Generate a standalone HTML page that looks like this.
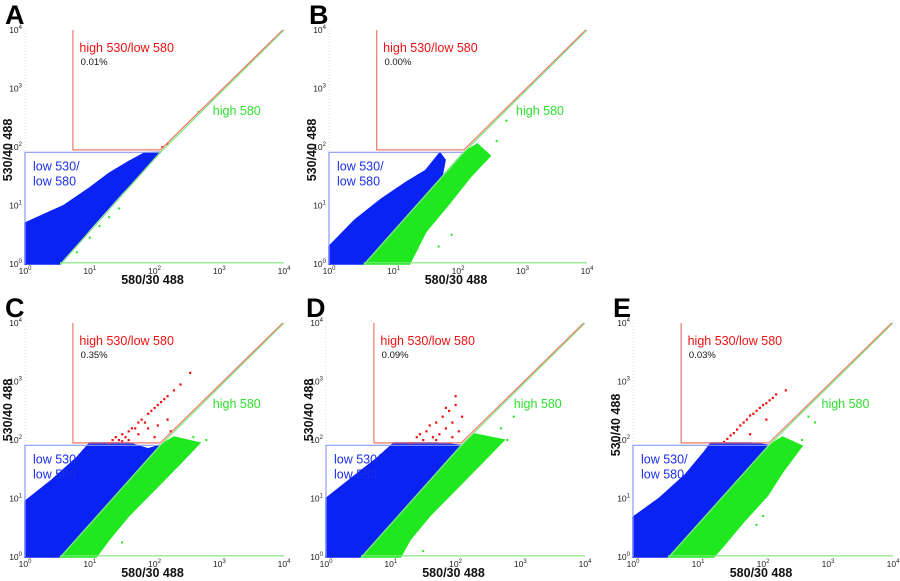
<!DOCTYPE html>
<html><head><meta charset="utf-8">
<style>
html,body{margin:0;padding:0;background:#fff;width:900px;height:581px;overflow:hidden}
svg{display:block;font-family:"Liberation Sans",Arial,sans-serif}
</style></head>
<body>
<svg id="fig" width="900" height="581" viewBox="0 0 900 581"></svg>
<script>
const panelLetters = ["A","B","C","D","E"];
const gatePercents = ["0.01%","0.00%","0.35%","0.09%","0.03%"];
const decadeTicks = [0,1,2,3,4];
const bluePolys = [
 [[0,0],[0,0.7],[0.3,0.85],[0.6,1.0],[1.0,1.3],[1.3,1.55],[1.6,1.75],[1.85,1.9],[2.09,1.91],[1.5,1.22],[1.0,0.6],[0.55,0]],
 [[0,0],[0,0.3],[0.4,0.75],[0.8,1.1],[1.2,1.4],[1.5,1.6],[1.72,1.9],[1.8,1.78],[1.75,1.49],[0.55,0]],
 [[0,0],[0,0.95],[0.4,1.3],[0.8,1.7],[1.0,1.95],[1.6,1.95],[1.9,1.85],[2.09,1.91],[0.55,0]],
 [[0,0],[0,1.0],[0.4,1.35],[0.8,1.7],[1.05,1.95],[1.7,1.95],[2.09,1.91],[0.55,0]],
 [[0,0],[0,0.68],[0.4,1.0],[0.8,1.4],[1.1,1.8],[1.2,1.95],[1.8,1.95],[2.09,1.91],[0.55,0]]
];
const greenPolys = [
 [],
 [[0.55,0],[2.09,1.91],[2.3,2.05],[2.5,1.85],[2.2,1.5],[1.87,1.04],[1.5,0.55],[1.25,0]],
 [[0.55,0],[2.09,1.91],[2.3,2.05],[2.7,1.95],[2.4,1.6],[2.0,1.15],[1.6,0.7],[1.3,0.3],[1.1,0]],
 [[0.55,0],[2.09,1.91],[2.3,2.1],[2.75,2.0],[2.4,1.6],[2.0,1.15],[1.6,0.7],[1.3,0.3],[1.15,0]],
 [[0.55,0],[2.09,1.91],[2.3,2.05],[2.6,1.9],[2.3,1.45],[2.07,1.05],[1.7,0.6],[1.4,0.2],[1.24,0]]
];
const redPoints = [
 [[2.12,2.0],[2.2,2.05]],
 [],
 [[1.3,1.95],[1.35,2.0],[1.4,2.05],[1.45,2.0],[1.5,2.1],[1.55,2.05],[1.6,2.15],[1.65,2.2],[1.7,2.2],[1.75,2.3],[1.8,2.35],[1.85,2.3],[1.9,2.45],[1.95,2.5],[2.0,2.55],[2.05,2.6],[2.1,2.65],[2.15,2.7],[2.2,2.75],[2.3,2.85],[2.4,2.95],[2.55,3.15],[1.75,2.1],[1.9,2.2],[2.05,2.25],[2.2,2.35],[1.6,2.0],[2.0,2.05],[2.25,2.15],[1.5,1.98]],
 [[1.3,1.95],[1.4,2.05],[1.5,2.0],[1.55,2.15],[1.6,2.25],[1.65,2.05],[1.7,2.3],[1.75,2.1],[1.8,2.4],[1.85,2.2],[1.9,2.5],[1.95,2.3],[2.0,2.6],[2.05,2.15],[2.1,2.4],[1.45,2.1],[1.7,2.0],[1.95,2.05],[2.0,2.75],[1.85,2.55]],
 [[1.4,1.97],[1.45,2.02],[1.5,2.08],[1.55,2.12],[1.6,2.18],[1.65,2.25],[1.7,2.3],[1.75,2.35],[1.8,2.42],[1.85,2.45],[1.9,2.5],[1.95,2.55],[2.0,2.6],[2.05,2.63],[2.1,2.68],[2.15,2.72],[2.2,2.78],[2.35,2.85],[1.8,2.1],[2.05,2.35]]
];
const greenPoints = [
 [[0.8,0.2],[1.0,0.45],[1.15,0.65],[1.3,0.8],[1.45,0.95],[2.68,2.6]],
 [[2.6,2.1],[2.75,2.45],[1.7,0.3],[1.9,0.5]],
 [[2.8,2.0],[2.6,2.05],[1.5,0.25]],
 [[2.9,2.4],[2.7,2.2],[2.8,2.0],[1.5,0.1]],
 [[2.8,2.3],[2.6,2.0],[2.7,2.4],[1.9,0.55],[2.0,0.7],[2.4,1.95]]
];
const panels = [
 {x0:25,x4:284,y0:264,y4:30,ty:150},
 {x0:329,x4:587,y0:264,y4:30,ty:150},
 {x0:25,x4:284,y0:557,y4:323,ty:410},
 {x0:326,x4:585,y0:557,y4:323,ty:410},
 {x0:633,x4:893,y0:557,y4:323,ty:425}
];
const NS="http://www.w3.org/2000/svg";
const svg=document.getElementById('fig');
function mk(tag,attrs,parent){const e=document.createElementNS(NS,tag);for(const k in attrs)e.setAttribute(k,attrs[k]);(parent||svg).appendChild(e);return e;}
function X(p,l){return p.x0+l*(p.x4-p.x0)/4;}
function Y(p,l){return p.y0-l*(p.y0-p.y4)/4;}
function pts(p,arr){return arr.map(a=>X(p,a[0]).toFixed(1)+','+Y(p,a[1]).toFixed(1)).join(' ');}

panels.forEach((p,i)=>{
 const g=mk('g',{});
 
 
 const L=mk('text',{x:p.x0-20,y:p.y4-6,'font-size':27,'font-weight':'bold',fill:'#000'},g);
 L.textContent=panelLetters[i];
 
 
 const ax=mk('line',{x1:p.x0,y1:p.y4,x2:p.x0,y2:p.y0,stroke:'#ddd','stroke-width':1,'stroke-dasharray':'1,2'},g);
 
 
 const bp=mk('polygon',{points:pts(p,bluePolys[i]),fill:'#0a22f2',stroke:'#0a22f2','stroke-width':1.5},g);
 
 
 if(greenPolys[i].length){
  const gp=mk('polygon',{points:pts(p,greenPolys[i]),fill:'#1fe81f',stroke:'#1fe81f','stroke-width':1.5},g);
  
  
 }
 greenPoints[i].forEach(a=>{
  const r=mk('rect',{x:X(p,a[0])-1,y:Y(p,a[1])-1,width:2,height:2,fill:'#1fe81f'},g);
  
  
 });
 redPoints[i].forEach(a=>{
  const r=mk('rect',{x:X(p,a[0])-1,y:Y(p,a[1])-1,width:2.2,height:2.2,fill:'#f01010'},g);
  
  
 });
 const bg=mk('polyline',{points:pts(p,[[0,0],[0,1.91],[2.09,1.91],[0.55,0]]),fill:'none',stroke:'#8a9cf5','stroke-width':1.2},g);
 
 
 const gg=mk('polyline',{points:pts(p,[[4,4],[2.09,1.91],[0.55,0],[0.55,0.02],[4,0.02]]),fill:'none',stroke:'#7fe87f','stroke-width':1.2},g);
 
 
 const rg=mk('polyline',{points:pts(p,[[0.74,4],[0.74,1.95],[2.09,1.95],[3.98,4]]),fill:'none',stroke:'#f07a6a','stroke-width':1.2},g);
 
 
 decadeTicks.forEach(t=>{
  const tx=mk('text',{x:X(p,t),y:p.y0+10,'font-size':8.5,'text-anchor':'middle',fill:'#222'},g);
  tx.innerHTML='10<tspan dy="-4" font-size="6">'+t+'</tspan>';
  
  
  const ty=mk('text',{x:p.x0-3,y:Y(p,t)+3,'font-size':8.5,'text-anchor':'end',fill:'#222'},g);
  ty.innerHTML='10<tspan dy="-4" font-size="6">'+t+'</tspan>';
  
  
 });
 const xt=mk('text',{x:(p.x0+p.x4)/2-2,y:p.y0+20,'font-size':12.5,'font-weight':'bold','text-anchor':'middle',fill:'#111'},g);
 xt.textContent='580/30 488';
 
 
 const cy=p.ty, cx=p.x0-13;
 const yt=mk('text',{x:cx,y:cy,'font-size':12.5,'font-weight':'bold','text-anchor':'middle',fill:'#111',transform:'rotate(-90 '+cx+' '+cy+')'},g);
 yt.textContent='530/40 488';
 
 
 const rl=mk('text',{x:X(p,0.84),y:Y(p,3.62),'font-size':12.5,fill:'#f01010'},g);
 rl.textContent='high 530/low 580';
 
 
 const pc=mk('text',{x:X(p,0.86),y:Y(p,3.4),'font-size':9.5,fill:'#111'},g);
 pc.textContent=gatePercents[i];
 
 
 const gl=mk('text',{x:X(p,2.9),y:Y(p,2.55),'font-size':12.5,fill:'#2ee02e'},g);
 gl.textContent='high 580';
 
 
 const bl1=mk('text',{x:p.x0+8,y:Y(p,1.6),'font-size':12.5,fill:'#1a2ee8'},g);
 bl1.textContent='low 530/';
 
 
 const bl2=mk('text',{x:p.x0+8,y:Y(p,1.34),'font-size':12.5,fill:'#1a2ee8'},g);
 bl2.textContent='low 580';
 
 
});
</script>
</body></html>
